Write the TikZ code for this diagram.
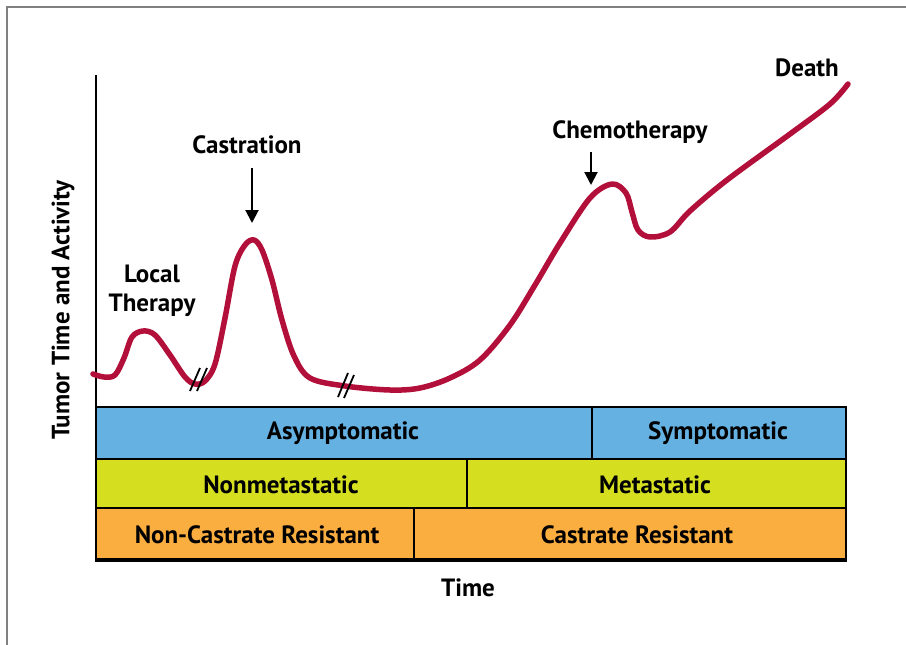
\documentclass[tikz,border=0pt]{standalone}
\usepackage{fontspec}
\setmainfont{PT Sans}
\usetikzlibrary{arrows.meta,positioning,calc}
\definecolor{tumorred}{RGB}{178,16,58}
\definecolor{asymblue}{RGB}{100,177,226}
\definecolor{metgreen}{RGB}{213,223,32}
\definecolor{crorange}{RGB}{251,174,64}
\definecolor{framegray}{RGB}{128,128,128}

\begin{document}
\begin{tikzpicture}[x=1pt,y=-1pt,
  lbl/.style={font=\fontsize{25}{29}\selectfont\bfseries},
  bar/.style={draw=black, line width=2pt},
  pointer/.style={-{Triangle[length=13pt,width=13pt]}, line width=2pt},
  brk/.style={line width=1.8pt},
  tumor/.style={tumorred, line width=5.5pt, line cap=round, line join=round}]
  \useasboundingbox (0,0) rectangle (906,645);
  \draw[framegray, line width=1.5pt] (7,645) -- (7,7) -- (906,7);

  \filldraw[bar, fill=asymblue] (96,407) rectangle (592,459);
  \filldraw[bar, fill=asymblue] (592,407) rectangle (846,459);
  \filldraw[bar, fill=metgreen] (96,459) rectangle (467,508);
  \filldraw[bar, fill=metgreen] (467,459) rectangle (846,508);
  \filldraw[bar, fill=crorange] (96,508) rectangle (414,559);
  \filldraw[bar, fill=crorange] (414,508) rectangle (846,559);
  \draw[line width=2pt] (96,75) -- (96,560);
  \draw[line width=3.5pt] (94.5,560) -- (847,560);

  \node[lbl] (asym) at (343,433) {Asymptomatic};
  \node[lbl] (sym) at (718,433) {Symptomatic};
  \node[lbl] (nonmet) at (281,485) {Nonmetastatic};
  \node[lbl] (met) at (655,485) {Metastatic};
  \node[lbl] (noncr) at (257,535) {Non-Castrate Resistant};
  \node[lbl] (cr) at (637,535) {Castrate Resistant};

  \node[lbl] (xlabel) at (468,588) {Time};
  \node[lbl, rotate=90] (ylabel) at (63,310) {Tumor Time and Activity};

  \draw[tumor] plot[smooth, tension=0.55] coordinates {(93,374) (104,377) (115,375) (124,358) (132,337) (143,331) (155,335) (170,355) (185,377) (195,384) (205,381) (215,364) (225,318) (235,266) (245,245) (254,240) (262,250) (272,280) (282,320) (294,356) (310,378) (345,386) (390,390) (420,388) (450,378) (480,360) (510,325) (535,285) (560,243) (590,198) (612,184) (626,193) (632,212) (638,230) (650,237) (670,232) (690,211) (727,180) (790,134) (830,104) (848,84)};

  \draw[brk] (190,391) -- (200,368);
  \draw[brk] (197,391) -- (207,368);
  \draw[brk] (338,397) -- (348,373);
  \draw[brk] (344,398) -- (354,375);

  \node[lbl, align=center] (local) at (152,291) {Local\\Therapy};
  \node[lbl] (castr) at (247,145) {Castration};
  \node[lbl] (chemo) at (630,132) {Chemotherapy};
  \node[lbl] (death) at (807,68) {Death};
  \coordinate (castrtip) at (252,223);
  \coordinate (castrtop) at (252,168);
  \coordinate (chemotip) at (591,185);
  \coordinate (chemotop) at (591,152);
  \draw[pointer] (castrtop) -- (castrtip);
  \draw[pointer] (chemotop) -- (chemotip);
\end{tikzpicture}
\end{document}
